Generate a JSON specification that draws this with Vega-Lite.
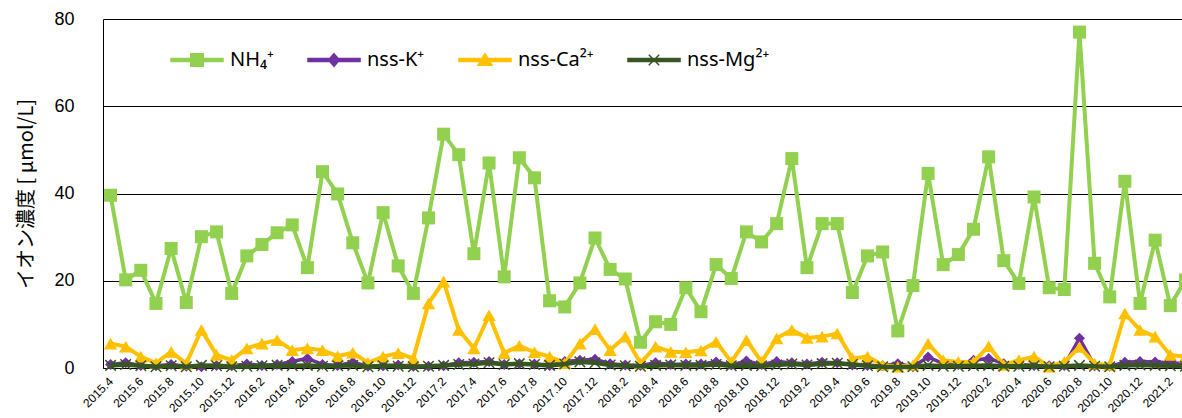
{
  "$schema": "https://vega.github.io/schema/vega-lite/v6.json",
  "width": 1079,
  "height": 349,
  "autosize": {"type": "none"},
  "padding": {"left": 103, "top": 19, "right": 0, "bottom": 50},
  "background": "white",
  "config": {"view": {"stroke": null}},
  "datasets": {
    "d": [
      {"m": "2015.4", "NH4": 39.6, "K": 0.8, "Ca": 5.6, "Mg": 0.6},
      {"m": "2015.5", "NH4": 20.2, "K": 1.2, "Ca": 4.9, "Mg": 0.8},
      {"m": "2015.6", "NH4": 22.4, "K": 0.6, "Ca": 2.6, "Mg": 0.5},
      {"m": "2015.7", "NH4": 14.8, "K": 0.5, "Ca": 1.1, "Mg": 0.3},
      {"m": "2015.8", "NH4": 27.4, "K": 0.8, "Ca": 3.7, "Mg": 0.5},
      {"m": "2015.9", "NH4": 15.0, "K": 0.4, "Ca": 1.0, "Mg": 0.3},
      {"m": "2015.10", "NH4": 30.1, "K": 0.3, "Ca": 8.7, "Mg": 0.6},
      {"m": "2015.11", "NH4": 31.2, "K": 0.6, "Ca": 3.0, "Mg": 0.5},
      {"m": "2015.12", "NH4": 17.1, "K": 0.5, "Ca": 1.8, "Mg": 0.3},
      {"m": "2016.1", "NH4": 25.7, "K": 0.9, "Ca": 4.5, "Mg": 0.4},
      {"m": "2016.2", "NH4": 28.3, "K": 0.6, "Ca": 5.6, "Mg": 0.5},
      {"m": "2016.3", "NH4": 31.0, "K": 0.8, "Ca": 6.4, "Mg": 0.6},
      {"m": "2016.4", "NH4": 32.8, "K": 1.5, "Ca": 4.1, "Mg": 0.5},
      {"m": "2016.5", "NH4": 23.0, "K": 2.2, "Ca": 4.5, "Mg": 0.6},
      {"m": "2016.6", "NH4": 45.0, "K": 0.8, "Ca": 4.1, "Mg": 0.4},
      {"m": "2016.7", "NH4": 39.9, "K": 0.6, "Ca": 2.7, "Mg": 0.5},
      {"m": "2016.8", "NH4": 28.7, "K": 1.3, "Ca": 3.5, "Mg": 0.6},
      {"m": "2016.9", "NH4": 19.5, "K": 0.4, "Ca": 1.2, "Mg": 0.3},
      {"m": "2016.10", "NH4": 35.6, "K": 0.5, "Ca": 2.6, "Mg": 0.5},
      {"m": "2016.11", "NH4": 23.4, "K": 0.7, "Ca": 3.4, "Mg": 0.4},
      {"m": "2016.12", "NH4": 17.1, "K": 0.4, "Ca": 2.2, "Mg": 0.3},
      {"m": "2017.1", "NH4": 34.4, "K": 0.4, "Ca": 14.8, "Mg": 0.4},
      {"m": "2017.2", "NH4": 53.6, "K": 0.5, "Ca": 19.8, "Mg": 0.6},
      {"m": "2017.3", "NH4": 48.9, "K": 1.2, "Ca": 8.7, "Mg": 0.8},
      {"m": "2017.4", "NH4": 26.2, "K": 1.3, "Ca": 4.5, "Mg": 0.9},
      {"m": "2017.5", "NH4": 47.0, "K": 1.5, "Ca": 12.1, "Mg": 1.2},
      {"m": "2017.6", "NH4": 20.9, "K": 0.8, "Ca": 3.4, "Mg": 0.8},
      {"m": "2017.7", "NH4": 48.2, "K": 1.0, "Ca": 5.1, "Mg": 1.0},
      {"m": "2017.8", "NH4": 43.6, "K": 0.9, "Ca": 3.6, "Mg": 0.8},
      {"m": "2017.9", "NH4": 15.4, "K": 0.6, "Ca": 2.6, "Mg": 0.6},
      {"m": "2017.10", "NH4": 14.0, "K": 1.5, "Ca": 1.1, "Mg": 0.9},
      {"m": "2017.11", "NH4": 19.5, "K": 1.8, "Ca": 5.6, "Mg": 1.4},
      {"m": "2017.12", "NH4": 29.8, "K": 2.0, "Ca": 8.9, "Mg": 1.2},
      {"m": "2018.1", "NH4": 22.6, "K": 1.0, "Ca": 4.1, "Mg": 0.7},
      {"m": "2018.2", "NH4": 20.4, "K": 0.7, "Ca": 7.2, "Mg": 0.5},
      {"m": "2018.3", "NH4": 5.9, "K": 0.6, "Ca": 1.1, "Mg": 0.4},
      {"m": "2018.4", "NH4": 10.6, "K": 1.2, "Ca": 4.9, "Mg": 0.6},
      {"m": "2018.5", "NH4": 10.0, "K": 0.8, "Ca": 3.7, "Mg": 0.7},
      {"m": "2018.6", "NH4": 18.4, "K": 0.9, "Ca": 3.6, "Mg": 0.6},
      {"m": "2018.7", "NH4": 12.9, "K": 0.9, "Ca": 4.0, "Mg": 0.6},
      {"m": "2018.8", "NH4": 23.7, "K": 1.4, "Ca": 6.0, "Mg": 0.8},
      {"m": "2018.9", "NH4": 20.5, "K": 0.7, "Ca": 1.4, "Mg": 0.5},
      {"m": "2018.10", "NH4": 31.2, "K": 1.6, "Ca": 6.4, "Mg": 0.6},
      {"m": "2018.11", "NH4": 28.9, "K": 0.8, "Ca": 1.4, "Mg": 0.5},
      {"m": "2018.12", "NH4": 33.1, "K": 1.5, "Ca": 6.8, "Mg": 0.7},
      {"m": "2019.1", "NH4": 48.0, "K": 1.2, "Ca": 8.7, "Mg": 0.9},
      {"m": "2019.2", "NH4": 23.0, "K": 0.9, "Ca": 6.9, "Mg": 0.7},
      {"m": "2019.3", "NH4": 33.1, "K": 1.3, "Ca": 7.2, "Mg": 1.0},
      {"m": "2019.4", "NH4": 33.1, "K": 1.2, "Ca": 7.9, "Mg": 1.1},
      {"m": "2019.5", "NH4": 17.3, "K": 0.7, "Ca": 2.2, "Mg": 0.8},
      {"m": "2019.6", "NH4": 25.7, "K": 0.6, "Ca": 2.6, "Mg": 0.5},
      {"m": "2019.7", "NH4": 26.6, "K": 0.5, "Ca": 0.7, "Mg": 0.3},
      {"m": "2019.8", "NH4": 8.5, "K": 1.0, "Ca": 0.3, "Mg": 0.2},
      {"m": "2019.9", "NH4": 18.9, "K": 0.3, "Ca": 0.7, "Mg": 0.3},
      {"m": "2019.10", "NH4": 44.6, "K": 2.5, "Ca": 5.6, "Mg": 0.6},
      {"m": "2019.11", "NH4": 23.7, "K": 1.0, "Ca": 1.8, "Mg": 0.4},
      {"m": "2019.12", "NH4": 26.0, "K": 0.8, "Ca": 1.4, "Mg": 0.4},
      {"m": "2020.1", "NH4": 31.8, "K": 1.8, "Ca": 1.4, "Mg": 0.5},
      {"m": "2020.2", "NH4": 48.4, "K": 2.2, "Ca": 5.0, "Mg": 0.6},
      {"m": "2020.3", "NH4": 24.6, "K": 1.0, "Ca": 0.7, "Mg": 0.4},
      {"m": "2020.4", "NH4": 19.4, "K": 0.8, "Ca": 1.8, "Mg": 0.4},
      {"m": "2020.5", "NH4": 39.2, "K": 0.6, "Ca": 2.6, "Mg": 0.5},
      {"m": "2020.6", "NH4": 18.4, "K": 0.5, "Ca": 0.3, "Mg": 0.3},
      {"m": "2020.7", "NH4": 18.0, "K": 0.6, "Ca": 1.4, "Mg": 0.4},
      {"m": "2020.8", "NH4": 77.0, "K": 6.8, "Ca": 4.8, "Mg": 0.6},
      {"m": "2020.9", "NH4": 24.0, "K": 0.5, "Ca": 1.0, "Mg": 0.4},
      {"m": "2020.10", "NH4": 16.3, "K": 0.4, "Ca": 0.7, "Mg": 0.3},
      {"m": "2020.11", "NH4": 42.8, "K": 1.3, "Ca": 12.5, "Mg": 0.6},
      {"m": "2020.12", "NH4": 14.8, "K": 1.5, "Ca": 8.7, "Mg": 0.7},
      {"m": "2021.1", "NH4": 29.3, "K": 1.4, "Ca": 7.2, "Mg": 0.6},
      {"m": "2021.2", "NH4": 14.3, "K": 1.2, "Ca": 3.0, "Mg": 0.5},
      {"m": "2021.3", "NH4": 20.2, "K": 1.0, "Ca": 2.6, "Mg": 0.4}
    ]
  },
  "data": {"name": "d"},
  "encoding": {
    "x": {
      "field": "m",
      "type": "ordinal",
      "scale": {
        "type": "point",
        "domain": ["2015.4","2015.5","2015.6","2015.7","2015.8","2015.9","2015.10","2015.11","2015.12",
          "2016.1","2016.2","2016.3","2016.4","2016.5","2016.6","2016.7","2016.8","2016.9","2016.10","2016.11","2016.12",
          "2017.1","2017.2","2017.3","2017.4","2017.5","2017.6","2017.7","2017.8","2017.9","2017.10","2017.11","2017.12",
          "2018.1","2018.2","2018.3","2018.4","2018.5","2018.6","2018.7","2018.8","2018.9","2018.10","2018.11","2018.12",
          "2019.1","2019.2","2019.3","2019.4","2019.5","2019.6","2019.7","2019.8","2019.9","2019.10","2019.11","2019.12",
          "2020.1","2020.2","2020.3","2020.4","2020.5","2020.6","2020.7","2020.8","2020.9","2020.10","2020.11","2020.12",
          "2021.1","2021.2","2021.3"],
        "range": [0, 1090],
        "padding": 0.5
      },
      "axis": {
        "title": null,
        "values": ["2015.4","2015.6","2015.8","2015.10","2015.12","2016.2","2016.4","2016.6","2016.8","2016.10","2016.12",
          "2017.2","2017.4","2017.6","2017.8","2017.10","2017.12","2018.2","2018.4","2018.6","2018.8","2018.10","2018.12",
          "2019.2","2019.4","2019.6","2019.8","2019.10","2019.12","2020.2","2020.4","2020.6","2020.8","2020.10","2020.12","2021.2"],
        "labelAngle": -45,
        "labelAlign": "right",
        "labelBaseline": "middle",
        "labelFont": "Liberation Sans",
        "labelFontSize": 12,
        "labelColor": "#000000",
        "labelPadding": 11,
        "ticks": false,
        "grid": false,
        "domainColor": "#000000",
        "labelOverlap": false
      }
    }
  },
  "layer": [
    {
      "mark": {"type": "line", "color": "#92D050", "strokeWidth": 4,
        "point": {"shape": "square", "size": 169, "filled": true, "color": "#92D050", "opacity": 1}},
      "encoding": {
        "y": {
          "field": "NH4", "type": "quantitative", "title": "イオン濃度 [ μmol/L]",
          "scale": {"domain": [0, 80], "nice": false},
          "axis": {
            "values": [0, 20, 40, 60, 80],
            "grid": true, "gridColor": "#000000", "gridWidth": 1,
            "ticks": false, "domain": true, "domainColor": "#000000",
            "labelFont": "Liberation Sans", "labelFontSize": 18, "labelColor": "#000000", "labelPadding": 29,
            "titleFont": "Noto Sans CJK JP", "titleFontSize": 20, "titleFontWeight": "normal", "titleColor": "#000000",
            "titlePadding": 17
          }
        }
      }
    },
    {
      "mark": {"type": "line", "color": "#7030A0", "strokeWidth": 3.5,
        "point": {"shape": "diamond", "size": 121, "filled": true, "color": "#7030A0", "opacity": 1}},
      "encoding": {"y": {"field": "K", "type": "quantitative", "title": "イオン濃度 [ μmol/L]"}}
    },
    {
      "mark": {"type": "line", "color": "#FFC000", "strokeWidth": 4,
        "point": {"shape": "triangle-up", "size": 180, "filled": true, "color": "#FFC000", "opacity": 1}},
      "encoding": {"y": {"field": "Ca", "type": "quantitative", "title": "イオン濃度 [ μmol/L]"}}
    },
    {
      "mark": {"type": "line", "color": "#375623", "strokeWidth": 4.5,
        "point": {"shape": "M-1,-1L1,1M-1,1L1,-1", "size": 110, "filled": false, "color": "#375623", "strokeWidth": 1.5, "opacity": 1}},
      "encoding": {"y": {"field": "Mg", "type": "quantitative", "title": "イオン濃度 [ μmol/L]"}}
    },
    {
      "data": {"values": []},
      "mark": {"type": "point", "filled": true},
      "encoding": {
        "x": null,
        "fill": {
          "field": "series", "type": "nominal",
          "scale": {"domain": ["NH₄⁺", "nss-K⁺", "nss-Ca²⁺", "nss-Mg²⁺"], "range": ["#92D050", "#7030A0", "#FFC000", "#375623"]},
          "legend": {"title": null, "orient": "none", "legendX": 67, "legendY": 14, "direction": "horizontal",
            "symbolSize": 2704, "symbolStrokeWidth": 1.5, "labelFont": "Noto Sans", "labelFontSize": 20,
            "labelColor": "#000000", "labelOffset": 6, "columnPadding": 31, "padding": 0, "labelLimit": 300, "symbolOpacity": 1}
        },
        "stroke": {
          "field": "series", "type": "nominal",
          "scale": {"domain": ["NH₄⁺", "nss-K⁺", "nss-Ca²⁺", "nss-Mg²⁺"], "range": ["#92D050", "#7030A0", "#FFC000", "#375623"]},
          "legend": {"title": null, "orient": "none", "legendX": 67, "legendY": 14, "direction": "horizontal",
            "symbolSize": 2704, "symbolStrokeWidth": 1.5, "labelFont": "Noto Sans", "labelFontSize": 20,
            "labelColor": "#000000", "labelOffset": 6, "columnPadding": 31, "padding": 0, "labelLimit": 300, "symbolOpacity": 1}
        },
        "shape": {
          "field": "series", "type": "nominal",
          "scale": {"domain": ["NH₄⁺", "nss-K⁺", "nss-Ca²⁺", "nss-Mg²⁺"],
            "range": [
              "M-1,-0.06H1V0.06H-1Z M-0.24,-0.24H0.24V0.24H-0.24Z",
              "M-1,-0.06H1V0.06H-1Z M0,-0.24L0.21,0L0,0.24L-0.21,0Z",
              "M-1,-0.06H1V0.06H-1Z M0,-0.24L0.27,0.2H-0.27Z",
              "M-1,-0.06H1V0.06H-1Z M-0.2,-0.2L0.2,0.2M-0.2,0.2L0.2,-0.2"
            ]},
          "legend": {"title": null, "orient": "none", "legendX": 67, "legendY": 14, "direction": "horizontal",
            "symbolSize": 2704, "symbolStrokeWidth": 1.5, "labelFont": "Noto Sans", "labelFontSize": 20,
            "labelColor": "#000000", "labelOffset": 6, "columnPadding": 31, "padding": 0, "labelLimit": 300, "symbolOpacity": 1}
        }
      }
    }
  ]
}
